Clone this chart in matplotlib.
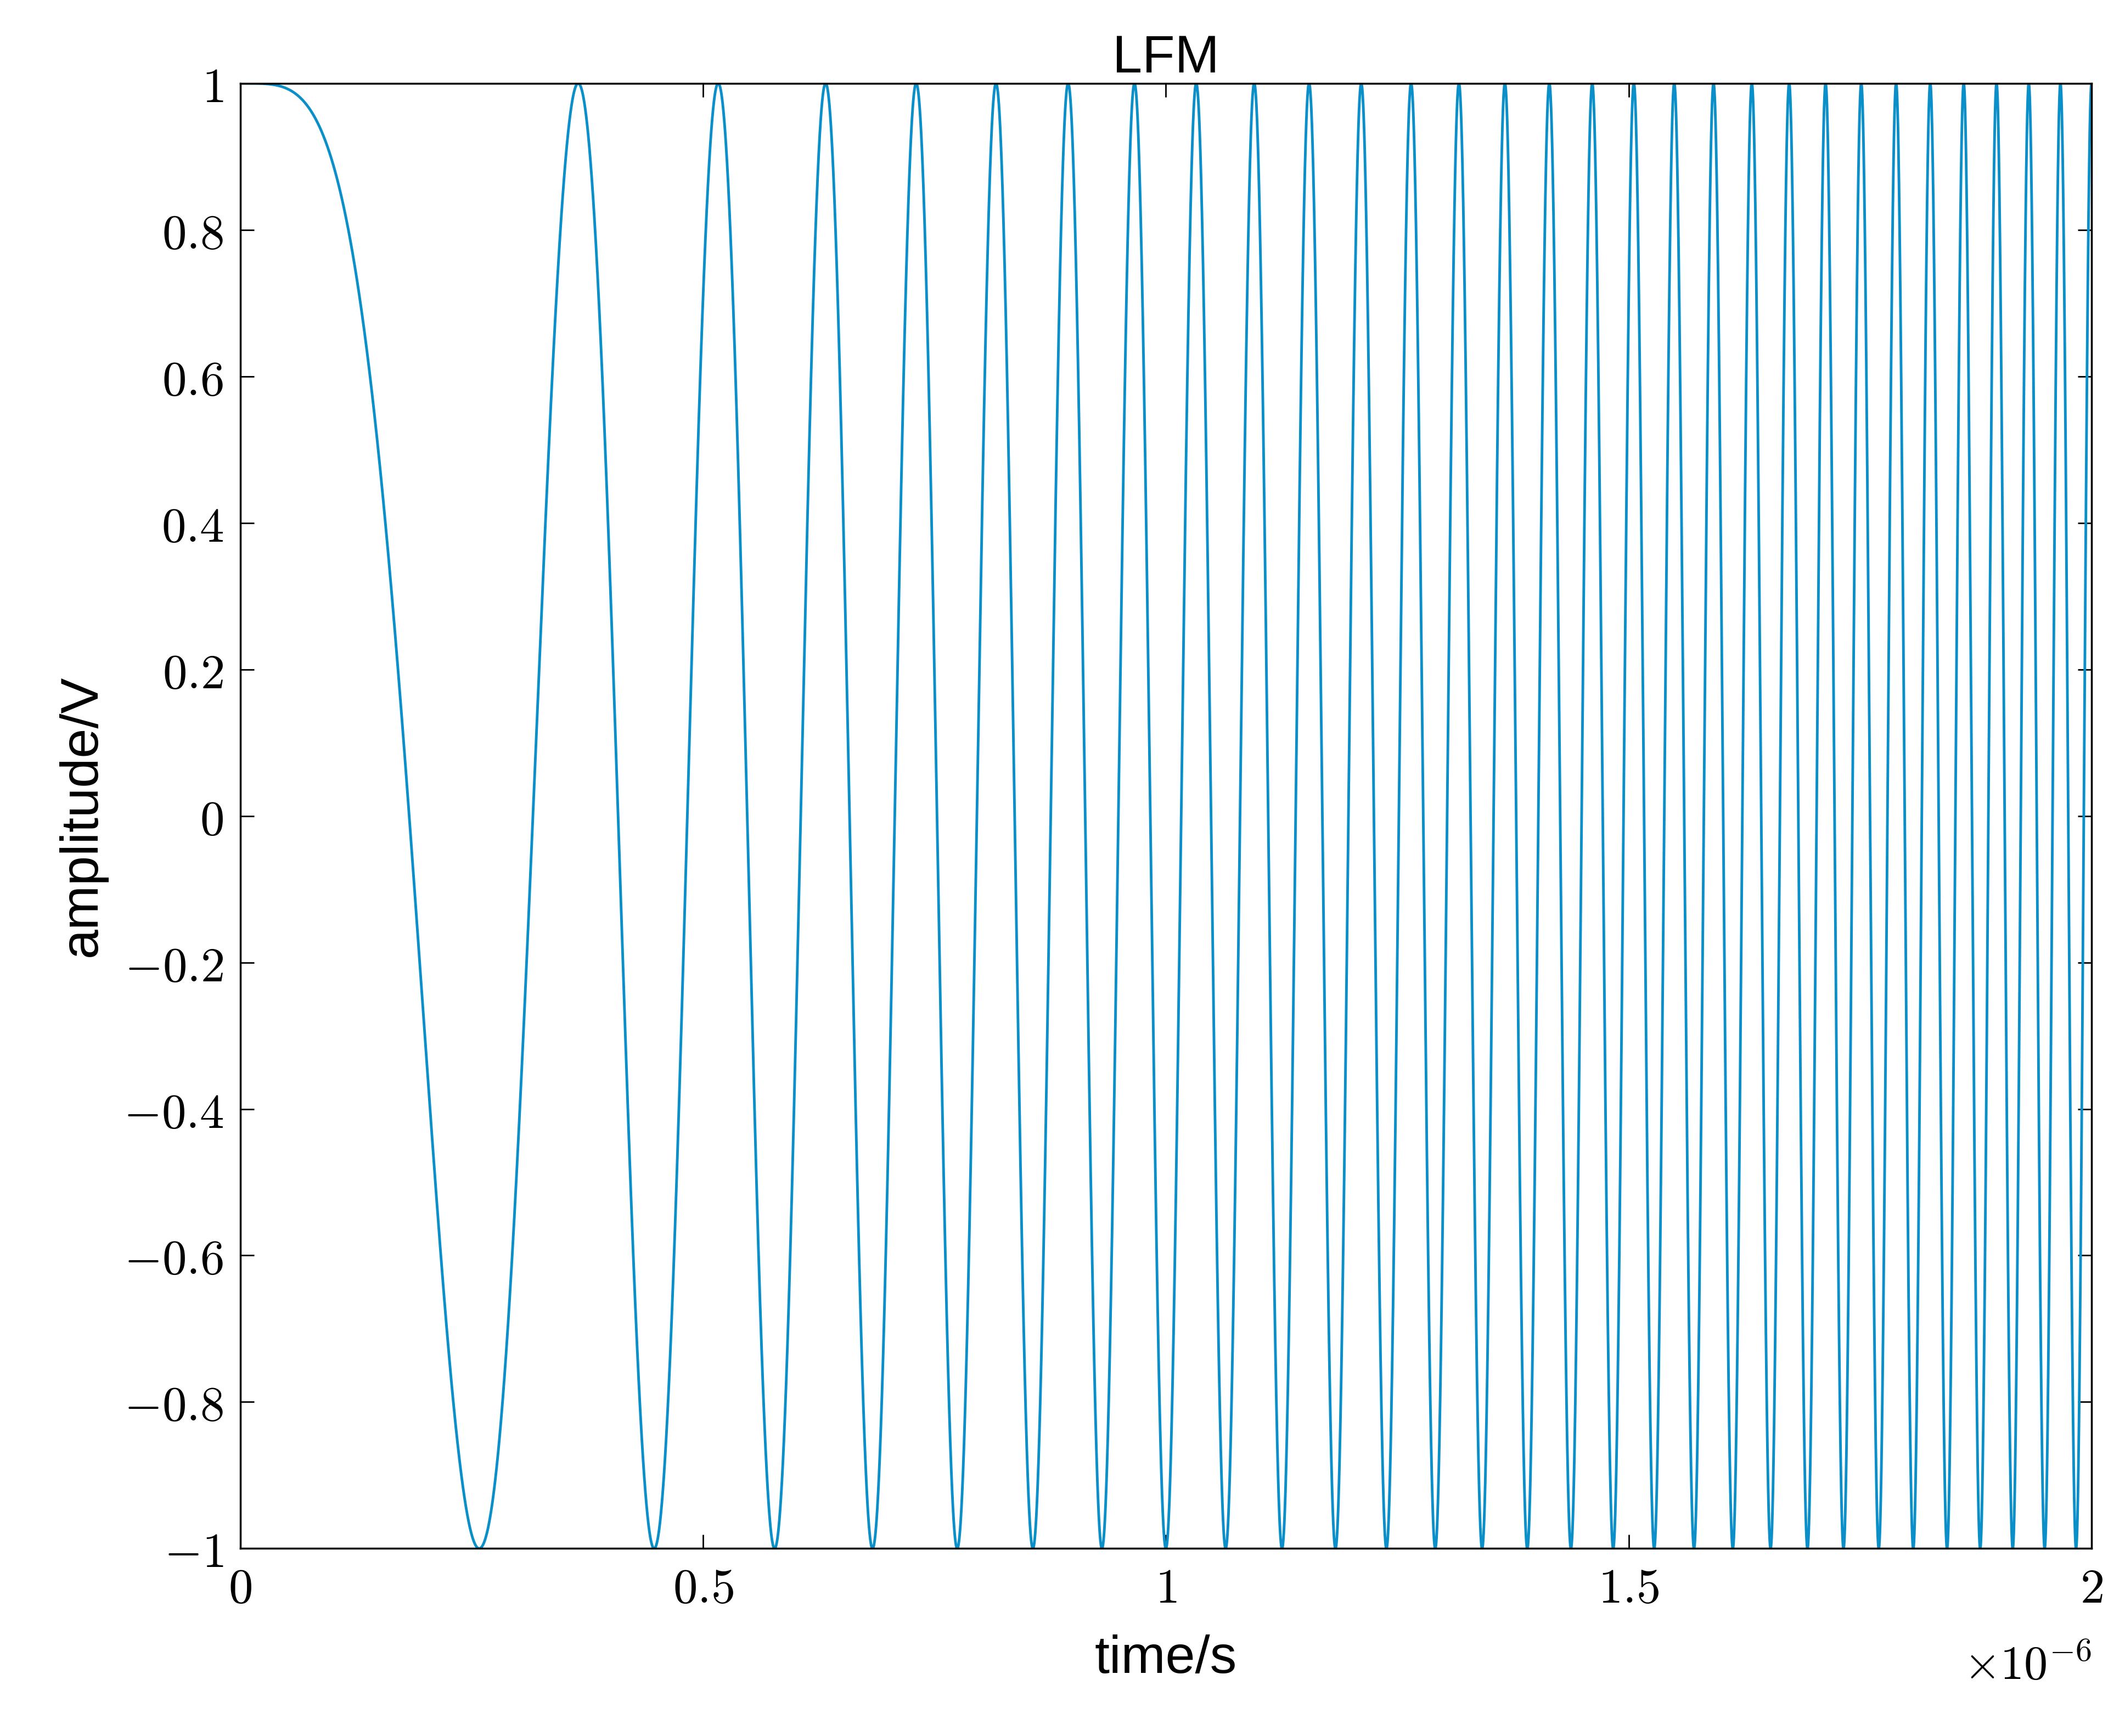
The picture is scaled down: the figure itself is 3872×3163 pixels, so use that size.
import numpy as np
import matplotlib
matplotlib.use("Agg")
import matplotlib.pyplot as plt

# LFM signal parameters
pulse_width = 2e-6        # s
chirp_rate = 1.5e13       # Hz/s  (B = 30 MHz over 2 us)
n_samples = 20001

t = np.linspace(0, pulse_width, n_samples)
y = np.cos(np.pi * chirp_rate * t**2)

plt.rcParams['mathtext.fontset'] = 'cm'
fig = plt.figure(figsize=(38.73, 31.63), dpi=100)
ax = fig.add_axes([0.113, 0.108, 0.871, 0.844])
ax.plot(t * 1e6, y, color='#0a8fc9', linewidth=3.5)
ax.set_xlim(0, 2)
ax.set_ylim(-1, 1)
ax.set_xticks([0, 0.5, 1, 1.5, 2])
ax.set_xticklabels([r'$0$', r'$0.5$', r'$1$', r'$1.5$', r'$2$'])
yt = [-1, -0.8, -0.6, -0.4, -0.2, 0, 0.2, 0.4, 0.6, 0.8, 1]
ax.set_yticks(yt)
ax.set_yticklabels([r'$%g$' % v for v in yt])
ax.tick_params(direction='in', length=18, width=2, labelsize=64, pad=22,
               top=True, right=True)
for s in ax.spines.values():
    s.set_linewidth(2.5)
fam = ['Liberation Sans', 'DejaVu Sans']
ax.set_title('LFM', fontsize=70, family=fam, pad=14)
ax.set_xlabel('time/s', fontsize=70, family=fam, labelpad=28)
ax.set_ylabel('amplitude/V', fontsize=70, family=fam, labelpad=22)
fig.text(0.984, 0.04, r'$\times10^{-6}$', fontsize=62, ha='right', va='center')
fig.savefig('out.png', dpi=100)
